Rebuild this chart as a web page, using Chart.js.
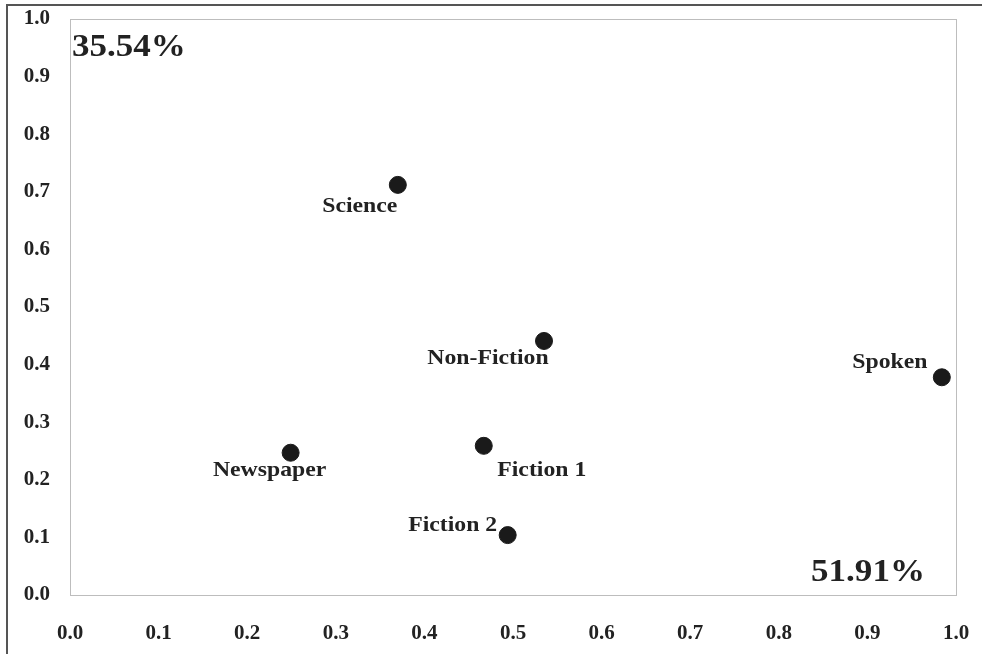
<!DOCTYPE html>
<html>
<head>
<meta charset="utf-8">
<script src="https://cdn.jsdelivr.net/npm/chart.js@4/dist/chart.umd.min.js"></script>
<style>
  html, body { margin: 0; padding: 0; background: #fff; }
  #wrap { width: 982px; height: 654px; position: relative; }
</style>
</head>
<body>
<div id="wrap"><canvas id="c" width="982" height="654"></canvas></div>
<script>
// Genre positions on the first two dimensions
const genres = ['Science', 'Non-Fiction', 'Spoken', 'Newspaper', 'Fiction 1', 'Fiction 2'];
const dim1 = [0.370, 0.535, 0.984, 0.249, 0.467, 0.494];
const dim2 = [0.712, 0.441, 0.378, 0.247, 0.259, 0.104];
const tickValues = [0.0, 0.1, 0.2, 0.3, 0.4, 0.5, 0.6, 0.7, 0.8, 0.9, 1.0];
const dim1Share = '51.91%';
const dim2Share = '35.54%';

// Where each genre name sits relative to its dot (pixels, text centre)
const labelOffsets = [
  [-38, 22], [-56, 18], [-52, -15], [-21, 18], [58, 25], [-55, -10]
];

const SERIF = '"Liberation Serif", "Times New Roman", serif';
const INK = '#222';
const STRETCH = 1.13;

function stretchedText(ctx, text, x, y, font, align) {
  ctx.save();
  ctx.font = font;
  ctx.fillStyle = INK;
  ctx.textBaseline = 'middle';
  ctx.textAlign = align || 'center';
  ctx.translate(x, y);
  ctx.scale(STRETCH, 1);
  ctx.fillText(text, 0, 0);
  ctx.restore();
}

const decorations = {
  id: 'decorations',
  beforeDraw(chart) {
    const ctx = chart.ctx;
    const a = chart.chartArea;
    ctx.save();
    // outer frame
    ctx.strokeStyle = '#555';
    ctx.lineWidth = 2;
    ctx.beginPath();
    ctx.moveTo(7, 654);
    ctx.lineTo(7, 5);
    ctx.lineTo(982, 5);
    ctx.stroke();
    // plot frame
    ctx.strokeStyle = '#bdbdbd';
    ctx.lineWidth = 1;
    ctx.strokeRect(a.left + 0.5, a.top + 0.5, a.right - a.left, a.bottom - a.top);
    ctx.restore();
  },
  afterDatasetsDraw(chart) {
    const ctx = chart.ctx;
    const a = chart.chartArea;
    const meta = chart.getDatasetMeta(0);
    meta.data.forEach((pt, i) => {
      const [dx, dy] = labelOffsets[i];
      stretchedText(ctx, genres[i], pt.x + dx, pt.y + dy, 'bold 21px ' + SERIF);
    });
    stretchedText(ctx, dim2Share, a.left + 2, a.top + 29, 'bold 31px ' + SERIF, 'left');
    stretchedText(ctx, dim1Share, a.right - 88, a.bottom - 22, 'bold 31px ' + SERIF);
  }
};

const points = dim1.map((x, i) => ({ x: x, y: dim2[i] }));

new Chart(document.getElementById('c'), {
  type: 'scatter',
  data: {
    datasets: [{
      data: points,
      backgroundColor: '#1a1a1a',
      borderColor: '#1a1a1a',
      pointRadius: 8.5,
      pointHoverRadius: 8.5
    }]
  },
  options: {
    responsive: false,
    animation: false,
    events: [],
    layout: { padding: { left: 0, top: 19, right: 26, bottom: 0 } },
    plugins: { legend: { display: false }, tooltip: { enabled: false } },
    scales: {
      x: {
        type: 'linear',
        min: 0, max: 1,
        afterBuildTicks(scale) { scale.ticks = tickValues.map(v => ({ value: v })); },
        afterFit(scale) { scale.height = 59; scale.paddingLeft = 0; scale.paddingRight = 0; },
        grid: { display: false, drawTicks: false },
        border: { display: false },
        ticks: {
          padding: 26,
          color: INK,
          font: { family: SERIF, size: 21, weight: 'bold' },
          callback: v => Number(v).toFixed(1)
        }
      },
      y: {
        type: 'linear',
        min: 0, max: 1,
        afterBuildTicks(scale) { scale.ticks = tickValues.map(v => ({ value: v })); },
        afterFit(scale) { scale.width = 70; scale.paddingTop = 0; scale.paddingBottom = 0; },
        grid: { display: false, drawTicks: false },
        border: { display: false },
        ticks: {
          padding: 20,
          color: INK,
          font: { family: SERIF, size: 21, weight: 'bold' },
          callback: v => Number(v).toFixed(1)
        }
      }
    }
  },
  plugins: [decorations]
});
</script>
</body>
</html>
